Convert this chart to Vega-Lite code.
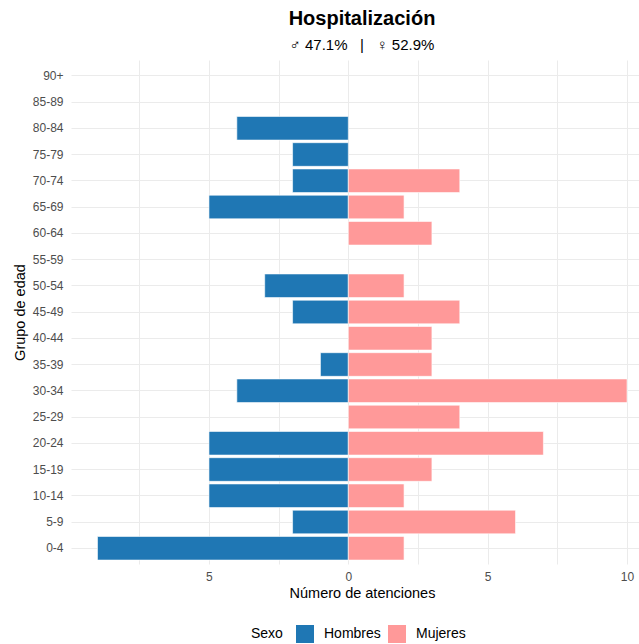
{
  "$schema": "https://vega.github.io/schema/vega-lite/v6.json",
  "autosize": {"type": "none"},
  "padding": {"left": 71, "top": 60, "right": 0, "bottom": 80},
  "width": 568,
  "height": 504,
  "background": "white",
  "config": {
    "font": "Liberation Sans",
    "view": {"stroke": null}
  },
  "title": {
    "text": "Hospitalización",
    "subtitle": "♂ 47.1%\u00a0\u00a0\u00a0|\u00a0\u00a0\u00a0♀ 52.9%",
    "frame": "group",
    "anchor": "middle",
    "dx": 7,
    "offset": 7,
    "fontSize": 20,
    "fontWeight": "bold",
    "color": "#000000",
    "subtitleFontSize": 15,
    "subtitleColor": "#000000",
    "subtitlePadding": 9
  },
  "data": {
    "values": [
      {"grupo": "0-4", "sexo": "Hombres", "n": -9},
      {"grupo": "5-9", "sexo": "Hombres", "n": -2},
      {"grupo": "10-14", "sexo": "Hombres", "n": -5},
      {"grupo": "15-19", "sexo": "Hombres", "n": -5},
      {"grupo": "20-24", "sexo": "Hombres", "n": -5},
      {"grupo": "30-34", "sexo": "Hombres", "n": -4},
      {"grupo": "35-39", "sexo": "Hombres", "n": -1},
      {"grupo": "45-49", "sexo": "Hombres", "n": -2},
      {"grupo": "50-54", "sexo": "Hombres", "n": -3},
      {"grupo": "65-69", "sexo": "Hombres", "n": -5},
      {"grupo": "70-74", "sexo": "Hombres", "n": -2},
      {"grupo": "75-79", "sexo": "Hombres", "n": -2},
      {"grupo": "80-84", "sexo": "Hombres", "n": -4},
      {"grupo": "0-4", "sexo": "Mujeres", "n": 2},
      {"grupo": "5-9", "sexo": "Mujeres", "n": 6},
      {"grupo": "10-14", "sexo": "Mujeres", "n": 2},
      {"grupo": "15-19", "sexo": "Mujeres", "n": 3},
      {"grupo": "20-24", "sexo": "Mujeres", "n": 7},
      {"grupo": "25-29", "sexo": "Mujeres", "n": 4},
      {"grupo": "30-34", "sexo": "Mujeres", "n": 10},
      {"grupo": "35-39", "sexo": "Mujeres", "n": 3},
      {"grupo": "40-44", "sexo": "Mujeres", "n": 3},
      {"grupo": "45-49", "sexo": "Mujeres", "n": 4},
      {"grupo": "50-54", "sexo": "Mujeres", "n": 2},
      {"grupo": "60-64", "sexo": "Mujeres", "n": 3},
      {"grupo": "65-69", "sexo": "Mujeres", "n": 2},
      {"grupo": "70-74", "sexo": "Mujeres", "n": 4}
    ]
  },
  "mark": {"type": "bar", "stroke": "white", "strokeWidth": 0.6},
  "encoding": {
    "x": {
      "field": "n",
      "type": "quantitative",
      "scale": {"domain": [-9.95, 10.43], "nice": false, "zero": false},
      "axis": {
        "values": [-7.5, -5, -2.5, 0, 2.5, 5, 7.5, 10],
        "labelExpr": "datum.value % 5 == 0 ? format(abs(datum.value), 'd') : ''",
        "ticks": false,
        "domain": false,
        "gridColor": "#EBEBEB",
        "gridWidth": 1,
        "labelColor": "#4D4D4D",
        "labelFontSize": 12,
        "labelPadding": 7,
        "labelFlush": false,
        "labelOverlap": false,
        "title": "Número de atenciones",
        "titleFontSize": 14.5,
        "titleFontWeight": "normal",
        "titleColor": "#000000",
        "titleX": 291,
        "titleY": 22,
        "titleBaseline": "top"
      }
    },
    "y": {
      "field": "grupo",
      "type": "nominal",
      "scale": {
        "domain": ["90+", "85-89", "80-84", "75-79", "70-74", "65-69", "60-64", "55-59", "50-54", "45-49", "40-44", "35-39", "30-34", "25-29", "20-24", "15-19", "10-14", "5-9", "0-4"],
        "paddingInner": 0.1,
        "paddingOuter": 0.15
      },
      "axis": {
        "ticks": false,
        "domain": false,
        "grid": true,
        "bandPosition": 0.5,
        "gridColor": "#EBEBEB",
        "gridWidth": 1,
        "labelColor": "#4D4D4D",
        "labelFontSize": 12,
        "labelPadding": 8,
        "title": "Grupo de edad",
        "titleFontSize": 14.5,
        "titleFontWeight": "normal",
        "titleColor": "#000000",
        "titleX": -51,
        "titleY": 252,
        "titleAlign": "center",
        "titleBaseline": "middle"
      }
    },
    "color": {
      "field": "sexo",
      "type": "nominal",
      "scale": {"domain": ["Hombres", "Mujeres"], "range": ["#1F77B4", "#FF9999"]},
      "legend": {
        "title": "Sexo",
        "orient": "none",
        "legendX": 180,
        "legendY": 565,
        "direction": "horizontal",
        "titleOrient": "left",
        "titleFontSize": 14,
        "titleFontWeight": "normal",
        "titleColor": "#000000",
        "titlePadding": 13,
        "symbolType": "square",
        "symbolSize": 324,
        "symbolStrokeWidth": 0,
        "symbolOpacity": 1,
        "labelFontSize": 14,
        "labelColor": "#000000",
        "labelOffset": 10,
        "columnPadding": 7
      }
    }
  }
}
